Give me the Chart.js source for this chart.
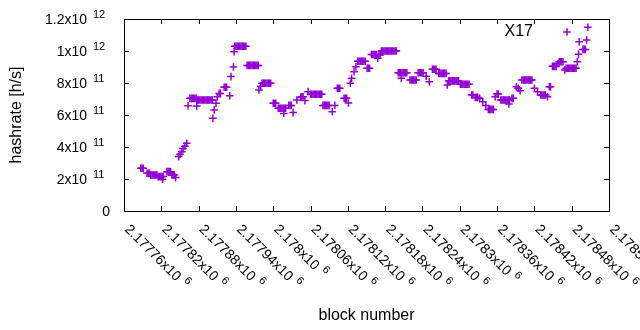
<!DOCTYPE html>
<html>
  <head>
    <title>hashrate</title>
    <style>
      body { margin: 0; background: white; }
      .wrap { width: 640px; height: 330px; }
    </style>
  </head>
  <body>
    <div class="wrap">
      <canvas id="hashChart" width="640" height="330"></canvas>
    </div>

    <script src="https://cdn.jsdelivr.net/npm/chart.js"></script>
    <script>
      // block numbers and hashrate (in units of 1e11 h/s)
      const blockNumbers = [
        2177787,2177789,2177791,
        2177797,2177799,2177801,
        2177803,2177805,2177807,2177809,2177811,2177813,
        2177815,2177817,2177819,2177821,2177822,2177823,
        2177829,2177831,2177833,2177835,
        2177837,2177839,2177841,2177843,
        2177848,2177850,2177853,2177855,2177858,2177861,
        2177863,2177866,2177868,2177870,2177872,2177874,2177876,2177877,
        2177878,2177880,2177882,2177884,2177886,2177888,2177890,2177892,2177894,2177896,2177898,2177900,2177902,
        2177903,2177905,2177908,2177910,2177913,2177915,
        2177921,2177923,2177925,2177930,2177932,2177936,2177937,
        2177938,2177940,2177942,2177944,2177946,2177948,2177950,2177952,2177954,2177956,
        2177958,2177960,2177962,2177964,2177966,2177968,2177970,2177972,2177974,2177976,
        2177977,2177980,2177982,2177984,2177986,2177988,2177990,2177992,2177994,2177996,
        2178000,2178002,2178004,
        2178008,2178010,2178012,2178014,2178016,2178018,2178020,2178017,
        2178025,2178027,2178029,2178032,
        2178038,2178044,2178046,2178048,2178051,2178056,
        2178060,2178062,2178064,2178066,2178068,2178070,2178072,2178074,2178076,2178078,
        2178080,2178082,2178084,2178086,2178088,2178090,2178095,2178099,
        2178103,2178105,2178107,
        2178114,2178116,2178118,2178121,2178124,2178126,2178130,2178133,
        2178136,2178138,2178140,2178142,2178144,2178146,2178148,
        2178151,2178153,2178155,
        2178158,2178160,2178162,2178164,2178166,2178168,2178170,2178172,
        2178174,2178176,2178178,2178180,2178182,2178184,2178186,2178188,2178190,2178192,2178194,2178196,2178198,
        2178201,2178203,2178205,2178207,2178209,2178211,2178213,2178215,2178206,
        2178220,2178222,2178224,2178226,2178228,2178230,
        2178233,2178235,2178237,2178239,2178241,2178246,2178251,
        2178256,2178258,2178260,2178262,
        2178266,2178268,2178270,2178272,2178274,2178276,2178278,2178280,
        2178282,2178284,2178286,2178288,2178290,2178292,2178294,2178296,2178298,
        2178301,2178303,2178305,2178307,2178309,2178311,2178313,2178315,
        2178319,2178321,2178325,2178327,2178329,2178332,2178337,2178342,
        2178346,2178348,2178350,2178352,2178354,
        2178357,2178360,2178362,
        2178366,2178368,2178370,2178372,2178374,2178376,2178378,2178380,2178379,2178384,2178386,
        2178391,2178394,2178397,
        2178400,2178402,2178404,2178406,2178408,2178410,2178412,2178414,2178416,
        2178420,2178425,2178430,2178432,2178434,2178436,2178438,2178441,2178444,2178446,
        2178449,2178451,2178453,2178455,
        2178458,2178460,2178462,2178464,2178466,
        2178469,2178471,2178473,2178475,2178477,2178479,2178481,2178483,2178485,2178487,
        2178489,2178491,2178492,2178498,2178500,2178502,2178504,2178506
      ];

      const hashrateE11 = [
        2.67,2.67,2.67,
        2.36,2.36,2.36,
        2.25,2.25,2.25,2.25,2.25,2.25,
        2.15,2.15,2.15,2.15,1.98,2.15,
        2.46,2.46,2.46,2.46,
        2.25,2.25,2.25,2.10,
        3.40,3.55,3.70,3.90,4.05,4.23,
        6.58,7.04,7.04,7.04,7.04,7.04,7.04,6.56,
        6.94,6.94,6.94,6.94,6.94,6.94,6.94,6.94,6.94,6.94,6.94,6.94,6.94,
        5.79,6.31,6.73,7.14,7.35,7.35,
        7.73,7.73,7.73,7.20,8.40,9.00,9.96,
        10.3,10.3,10.3,10.3,10.3,10.3,10.3,10.3,10.3,10.3,
        9.10,9.10,9.10,9.10,9.10,9.10,9.10,9.10,9.10,9.10,
        7.56,7.80,7.98,7.98,7.98,7.98,7.98,7.98,7.98,7.98,
        6.73,6.73,6.73,
        6.42,6.42,6.42,6.42,6.42,6.42,6.42,6.10,
        6.60,6.60,6.60,6.15,
        6.94,7.10,7.14,7.14,6.90,7.46,
        7.30,7.30,7.30,7.30,7.30,7.30,7.30,7.30,7.30,7.30,
        6.60,6.60,6.60,6.60,6.60,6.60,6.20,6.60,
        7.67,7.67,7.67,
        7.04,7.04,7.04,6.75,7.98,8.29,8.71,9.02,
        9.36,9.36,9.36,9.36,9.36,9.36,9.36,
        8.92,8.92,8.92,
        9.78,9.78,9.78,9.78,9.78,9.55,9.75,9.75,
        10.0,10.0,10.0,10.0,10.0,10.0,10.0,10.0,10.0,10.0,10.0,10.0,10.0,
        8.64,8.64,8.64,8.64,8.64,8.64,8.64,8.64,8.29,
        8.19,8.19,8.19,8.19,8.19,8.19,
        8.64,8.64,8.64,8.64,8.64,8.42,8.08,
        8.86,8.86,8.86,8.86,
        8.60,8.60,8.60,8.60,8.60,8.60,8.60,7.88,
        8.13,8.13,8.13,8.13,8.13,8.13,8.13,8.13,8.13,
        7.92,7.92,7.92,7.92,7.92,7.92,7.92,7.92,
        7.25,7.25,7.10,7.10,7.10,7.04,6.83,6.60,
        6.35,6.35,6.35,6.35,6.35,
        7.14,7.31,7.31,
        6.94,6.94,6.94,6.94,6.94,6.94,6.94,6.94,6.69,7.04,7.04,
        7.77,7.67,7.52,
        8.19,8.19,8.19,8.19,8.19,8.19,8.19,8.19,8.19,
        7.67,7.46,7.25,7.25,7.25,7.25,7.25,7.14,7.77,7.77,
        9.04,9.04,9.04,9.04,
        9.20,9.33,9.33,9.33,9.33,
        8.81,8.92,8.92,8.92,8.92,8.92,8.92,8.92,8.92,8.92,
        9.33,9.79,10.58,10.1,10.1,10.1,10.69,11.48
      ];

      const xTickValues = [2177760,2177820,2177880,2177940,2178000,2178060,2178120,
                           2178180,2178240,2178300,2178360,2178420,2178480,2178540];
      const yTickValues = [0,2e11,4e11,6e11,8e11,1e12,1.2e12];

      const seriesName = 'X17';
      const xTitle = 'block number';
      const yTitle = 'hashrate [h/s]';

      const purple = '#9400d3';
      const fontFam = '"Liberation Sans", Arial, sans-serif';

      if (blockNumbers.length !== hashrateE11.length) {
        console.log('length mismatch', blockNumbers.length, hashrateE11.length);
      }

      const points = blockNumbers.map((b, i) => ({ x: b, y: hashrateE11[i] * 1e11 }));

      // split a value into "mantissa x10" and exponent like gnuplot does
      function sciParts(v) {
        if (v === 0) return null;
        const e = Math.floor(Math.log10(v) + 1e-9);
        const m = +(v / Math.pow(10, e)).toPrecision(6);
        return { base: m + 'x10', exp: String(e) };
      }

      function drawSci(ctx, v, x, y, align) {
        const p = sciParts(v);
        ctx.textBaseline = 'alphabetic';
        if (!p) {
          ctx.font = '14px ' + fontFam;
          ctx.textAlign = 'right';
          ctx.fillText('0', x + 23, y);
          return;
        }
        ctx.font = '14px ' + fontFam;
        if (align === 'right') {
          ctx.textAlign = 'right';
          ctx.fillText(p.base, x, y);
          ctx.textAlign = 'left';
          ctx.font = '11px ' + fontFam;
          ctx.fillText(p.exp, x + 6, y - 6);
        } else {
          ctx.textAlign = 'left';
          ctx.fillText(p.base, x, y);
          const w = ctx.measureText(p.base).width;
          ctx.font = '11px ' + fontFam;
          ctx.fillText(p.exp, x + w + 5, y - 6);
        }
      }

      const gnuplotFrame = {
        id: 'gnuplotFrame',
        afterDraw(chart) {
          const ctx = chart.ctx;
          const a = chart.chartArea;
          const xs = chart.scales.x;
          const ys = chart.scales.y;
          const tick = 5;
          ctx.save();
          ctx.strokeStyle = '#000';
          ctx.lineWidth = 1;
          ctx.strokeRect(a.left + 0.5, a.top + 0.5, a.right - a.left, a.bottom - a.top);

          ctx.beginPath();
          ys.ticks.forEach(t => {
            const py = Math.round(ys.getPixelForValue(t.value)) + 0.5;
            ctx.moveTo(a.left, py); ctx.lineTo(a.left + tick, py);
            ctx.moveTo(a.right, py); ctx.lineTo(a.right - tick, py);
          });
          xs.ticks.forEach(t => {
            const px = Math.round(xs.getPixelForValue(t.value)) + 0.5;
            ctx.moveTo(px, a.bottom); ctx.lineTo(px, a.bottom - tick);
            ctx.moveTo(px, a.top); ctx.lineTo(px, a.top + tick);
          });
          ctx.stroke();

          ctx.fillStyle = '#000';
          // y tick labels
          ys.ticks.forEach(t => {
            const py = ys.getPixelForValue(t.value);
            drawSci(ctx, t.value, 87, py + 5, 'right');
          });
          // x tick labels, rotated -45
          xs.ticks.forEach(t => {
            const px = xs.getPixelForValue(t.value);
            ctx.save();
            ctx.translate(px, a.bottom + 19);
            ctx.rotate(Math.PI / 4);
            drawSci(ctx, t.value, 0, 0, 'left');
            ctx.restore();
          });

          // axis titles
          ctx.font = '16px ' + fontFam;
          ctx.textAlign = 'center';
          ctx.textBaseline = 'middle';
          ctx.fillText(xTitle, (a.left + a.right) / 2, 316);
          ctx.save();
          ctx.translate(17, (a.top + a.bottom) / 2);
          ctx.rotate(-Math.PI / 2);
          ctx.fillText(yTitle, 0, 0);
          ctx.restore();

          // key
          ctx.textAlign = 'right';
          ctx.fillText(seriesName, 533, 32);
          ctx.strokeStyle = purple;
          ctx.lineWidth = 1.5;
          ctx.beginPath();
          ctx.moveTo(567 - 3.8, 32); ctx.lineTo(567 + 3.8, 32);
          ctx.moveTo(567, 32 - 3.8); ctx.lineTo(567, 32 + 3.8);
          ctx.stroke();
          ctx.restore();
        }
      };

      const ctxEl = document.getElementById('hashChart');
      const hashChart = new Chart(ctxEl, {
        type: 'scatter',
        data: {
          datasets: [{
            label: seriesName,
            data: points,
            showLine: false,
            pointStyle: 'cross',
            pointRadius: 3.8,
            pointHoverRadius: 3.8,
            borderWidth: 1.5,
            borderColor: purple,
            backgroundColor: purple
          }]
        },
        options: {
          responsive: false,
          animation: false,
          events: [],
          layout: { padding: { top: 19, right: 31, left: 0, bottom: 0 } },
          plugins: { legend: { display: false }, tooltip: { enabled: false } },
          scales: {
            x: {
              type: 'linear',
              min: xTickValues[0],
              max: xTickValues[xTickValues.length - 1],
              afterBuildTicks: s => { s.ticks = xTickValues.map(v => ({ value: v })); },
              afterFit: s => { s.height = 119; },
              ticks: { display: false },
              grid: { display: false },
              border: { display: false }
            },
            y: {
              type: 'linear',
              min: yTickValues[0],
              max: yTickValues[yTickValues.length - 1],
              afterBuildTicks: s => { s.ticks = yTickValues.map(v => ({ value: v })); },
              afterFit: s => { s.width = 124; },
              ticks: { display: false },
              grid: { display: false },
              border: { display: false }
            }
          }
        },
        plugins: [gnuplotFrame]
      });
    </script>
  </body>
</html>
